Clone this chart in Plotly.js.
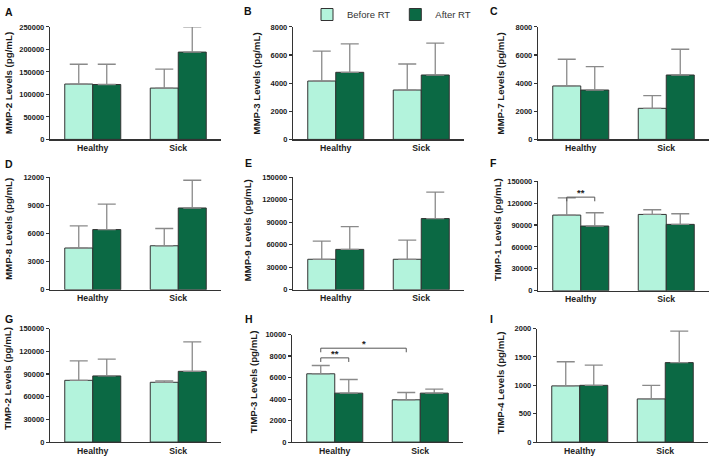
<!DOCTYPE html>
<html>
<head>
<meta charset="utf-8">
<script src="https://cdn.plot.ly/plotly-3.0.1.min.js"></script>
<style>
html,body{margin:0;padding:0;background:#fff;}
#chart{width:709px;height:457px;}
</style>
</head>
<body>
<div id="chart"></div>
<script>
// ---------- data ----------
const categories = ['Healthy', 'Sick'];
const seriesNames = ['Before RT', 'After RT'];
const panelLetters = ['A', 'B', 'C', 'D', 'E', 'F', 'G', 'H', 'I'];
const yTitles = [
  'MMP-2 Levels (pg/mL)', 'MMP-3 Levels (pg/mL)', 'MMP-7 Levels (pg/mL)',
  'MMP-8 Levels (pg/mL)', 'MMP-9 Levels (pg/mL)', 'TIMP-1 Levels (pg/mL)',
  'TIMP-2 Levels (pg/mL)', 'TIMP-3 Levels (pg/mL)', 'TIMP-4 Levels (pg/mL)'
];
// means [Healthy, Sick]
const beforeRT = [
  [123000, 114000], [4150, 3510], [3800, 2210],
  [4450, 4690], [40600, 40600], [103600, 104500],
  [81600, 79000], [6350, 3930], [990, 760]
];
const afterRT = [
  [122000, 194000], [4770, 4580], [3510, 4580],
  [6420, 8720], [53800, 94900], [88600, 90900],
  [87400, 93500], [4550, 4550], [1000, 1400]
];
// upper error (SD)
const beforeRTErr = [
  [44000, 42000], [2120, 1850], [1900, 900],
  [2360, 1840], [24300, 25600], [23600, 6400],
  [25600, 1800], [770, 680], [425, 240]
];
const afterRTErr = [
  [45000, 56000], [2020, 2260], [1660, 1830],
  [2720, 2960], [30400, 35300], [18200, 14500],
  [22100, 38800], [1270, 370], [355, 555]
];
// y-axis tick settings
const yMax = [250000, 8000, 8000, 12000, 150000, 150000, 150000, 10000, 2000];
const yStep = [50000, 2000, 2000, 3000, 30000, 30000, 30000, 2000, 500];
// significance brackets: panel index, [category, series] from / to, bracket level, label
const sigPanel = [5, 7, 7];
const sigFrom = [[0, 0], [0, 0], [0, 0]];
const sigTo = [[0, 1], [0, 1], [1, 0]];
const sigLevel = [128200, 7830, 8730];
const sigLabel = ['**', '**', '*'];

// ---------- layout geometry (pixels) ----------
const W = 709, H = 457;
const xDomPx = [[50,221],[293,464],[538,709],[50,221],[293,464],[538,709],[50,221],[292,463],[537,708]];
const yDomPx = [[25,138],[25,138],[25,138],[176,289],[176,289],[180,290],[328,442],[334,442],[328,442]];
const letterPos = [[3,10],[242,9],[488,9],[3,163],[243,162],[488,162],[3,318],[243,318],[488,318]];
const titleX = [8.5,257,501,8,247.5,498,7.5,253,500];
const titleY = [82,82,82,228,230,229,378,382,383];

const lightCol = '#b3f3dc';
const darkCol = '#0b6944';
const lineCol = '#333333';
const errCol = '#8a8a8a';
const FONT = 'Liberation Sans, Arial, sans-serif';
const bargap = 0.345;
const barHalf = (1 - bargap) / 4;

const traces = [];
const layout = {
  width: W, height: H,
  margin: {l: 0, r: 0, t: 0, b: 0},
  paper_bgcolor: '#ffffff', plot_bgcolor: 'rgba(0,0,0,0)',
  barmode: 'group', bargap: bargap, bargroupgap: 0,
  font: {family: FONT, color: '#222'},
  showlegend: true,
  legend: {
    orientation: 'h', x: 307 / W, y: 1 + 2 / H, xanchor: 'left', yanchor: 'top',
    font: {family: FONT, size: 9.5, color: '#333'},
    itemwidth: 30, tracegroupgap: 0, bgcolor: 'rgba(0,0,0,0)', itemclick: false
  },
  annotations: [],
  shapes: []
};

function ticks(max, step) {
  const v = [];
  for (let t = 0; t <= max + 1e-9; t += step) v.push(t);
  return v;
}

for (let p = 0; p < 9; p++) {
  const n = p + 1;
  const xa = 'x' + (n === 1 ? '' : n);
  const ya = 'y' + (n === 1 ? '' : n);
  const xKey = 'xaxis' + (n === 1 ? '' : n);
  const yKey = 'yaxis' + (n === 1 ? '' : n);
  [[beforeRT, beforeRTErr, lightCol], [afterRT, afterRTErr, darkCol]].forEach((s, si) => {
    traces.push({
      type: 'bar', x: categories, y: s[0][p], xaxis: xa, yaxis: ya,
      name: seriesNames[si], legendgroup: seriesNames[si], showlegend: p === 0,
      marker: {color: s[2], line: {color: lineCol, width: 1}},
      error_y: {type: 'data', symmetric: false, array: s[1][p], arrayminus: [0, 0],
        color: errCol, thickness: 1.3, width: 9},
      hoverinfo: 'skip'
    });
  });
  layout[xKey] = {
    domain: [xDomPx[p][0] / W, xDomPx[p][1] / W],
    anchor: ya, type: 'category', range: [-0.5, 1.5],
    showline: true, linecolor: lineCol, linewidth: 1.2, ticks: '',
    showgrid: false, zeroline: false, fixedrange: true,
    tickfont: {family: FONT, size: 8.7, color: '#222', weight: 'bold'}
  };
  const tv = ticks(yMax[p], yStep[p]);
  layout[yKey] = {
    domain: [1 - yDomPx[p][1] / H, 1 - yDomPx[p][0] / H],
    anchor: xa, range: [0, yMax[p]],
    tickvals: tv, ticktext: tv.map(String),
    showline: true, linecolor: lineCol, linewidth: 1.2,
    ticks: 'outside', ticklen: 3, tickcolor: lineCol, tickwidth: 1.1,
    showgrid: false, zeroline: false, fixedrange: true,
    tickfont: {family: FONT, size: 7.5, color: '#1a1a1a', weight: 'bold'}
  };
  layout.annotations.push({
    xref: 'paper', yref: 'paper', x: letterPos[p][0] / W, y: 1 - letterPos[p][1] / H,
    xanchor: 'left', yanchor: 'middle', showarrow: false,
    text: '<b>' + panelLetters[p] + '</b>', font: {family: FONT, size: 10.5, color: '#111'}
  });
  layout.annotations.push({
    xref: 'paper', yref: 'paper', x: titleX[p] / W, y: 1 - titleY[p] / H,
    xanchor: 'center', yanchor: 'middle', showarrow: false, textangle: -90,
    text: '<b>' + yTitles[p] + '</b>', font: {family: FONT, size: 9.7, color: '#1a1a1a'}
  });
}

// significance brackets
for (let k = 0; k < sigPanel.length; k++) {
  const n = sigPanel[k] + 1;
  const xr = 'x' + n, yr = 'y' + n;
  const x0 = sigFrom[k][0] + (sigFrom[k][1] === 0 ? -barHalf : barHalf);
  const x1 = sigTo[k][0] + (sigTo[k][1] === 0 ? -barHalf : barHalf);
  const drop = yMax[sigPanel[k]] * 0.038;
  const lvl = sigLevel[k];
  layout.shapes.push({
    type: 'path', xref: xr, yref: yr,
    path: 'M' + x0 + ',' + (lvl - drop) + ' L' + x0 + ',' + lvl + ' L' + x1 + ',' + lvl + ' L' + x1 + ',' + (lvl - drop),
    line: {color: '#555', width: 1}
  });
  layout.annotations.push({
    xref: xr, yref: yr, x: (x0 + x1) / 2, y: lvl, xanchor: 'center', yanchor: 'bottom',
    yshift: -3, showarrow: false, text: sigLabel[k],
    font: {family: FONT, size: 9.5, color: '#222', weight: 'bold'}
  });
}

Plotly.newPlot('chart', traces, layout, {displayModeBar: false, staticPlot: true});
</script>
</body>
</html>
